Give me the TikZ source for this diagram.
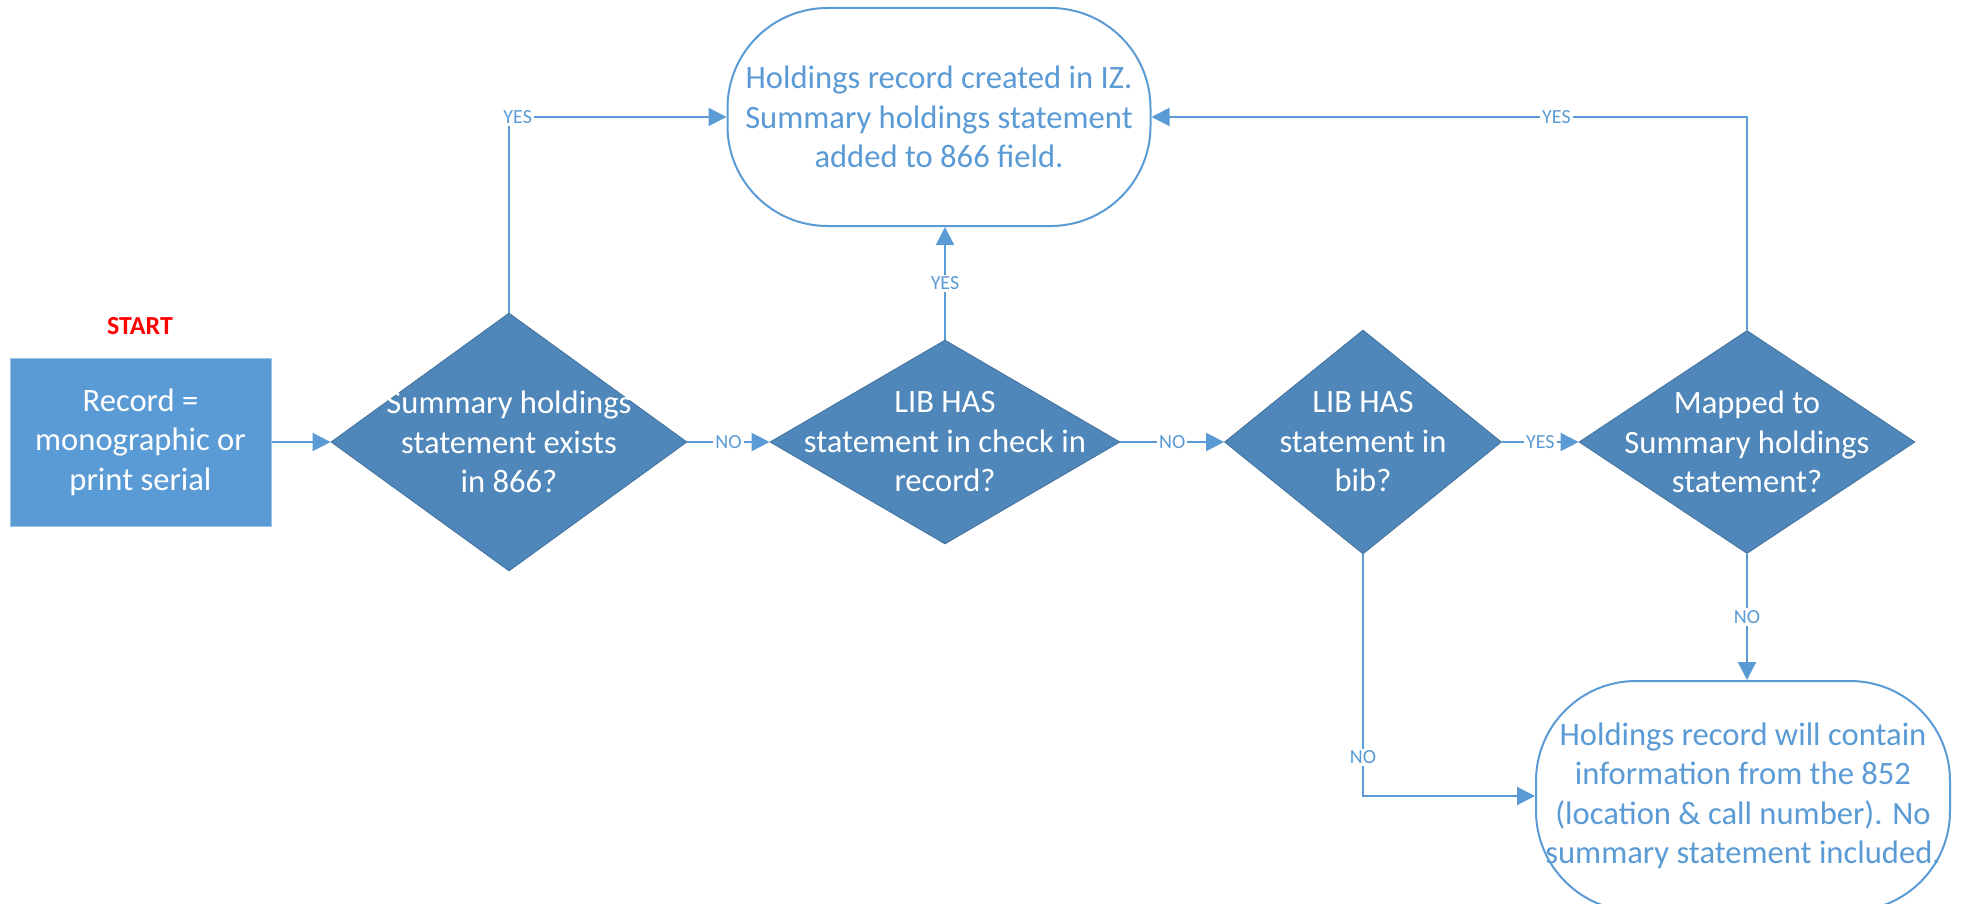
\documentclass[tikz,border=0pt]{standalone}
\usepackage{fontspec}
\setmainfont{Carlito}
\usetikzlibrary{shapes.geometric,arrows.meta}
\definecolor{boxblue}{HTML}{5B9BD5}
\definecolor{diablue}{HTML}{4F87BA}
\definecolor{edgeblue}{HTML}{41719C}

\begin{document}
\begin{tikzpicture}[x=0.5pt,y=-0.5pt,
        flow/.style={draw=boxblue,line width=1pt,-{Triangle[length=9pt,width=9pt]}},
        answer/.style={fill=white,text=boxblue,inner sep=1pt,font=\fontsize{10pt}{12pt}\selectfont},
        decision/.style={diamond,fill=diablue,draw=edgeblue,line width=0.4pt,inner sep=0pt},
        outcome/.style={rectangle,draw=boxblue,line width=1pt,rounded corners=50pt,fill=white},
        bigtext/.style={align=center,font=\fontsize{16.3pt}{19.75pt}\selectfont}]
                \useasboundingbox (0,0) rectangle (1965,904);

                \node[text=red,font=\fontsize{13pt}{15pt}\selectfont\bfseries] (start) at (140,326) {START};

                \node[rectangle,fill=boxblue,draw=boxblue!60!white,line width=0.5pt,
                    minimum width=130.5pt,minimum height=84pt,text=white,bigtext] (rec) at (140.5,442)
                    {Record =\\monographic or\\print serial};

                \node[decision,minimum width=178pt,minimum height=129pt] (d1) at (509,442) {};
                \node[bigtext,text=white] (d1t) at (d1) {Summary holdings\\statement exists\\in 866?};

                \node[decision,minimum width=175pt,minimum height=102pt] (d2) at (945,442) {};
                \node[bigtext,text=white] (d2t) at (d2) {LIB HAS\\statement in check in\\record?};

                \node[decision,minimum width=138.5pt,minimum height=112pt] (d3) at (1363,442) {};
                \node[bigtext,text=white] (d3t) at (d3) {LIB HAS\\statement in\\bib?};

                \node[decision,minimum width=168pt,minimum height=111.5pt] (d4) at (1747,442) {};
                \node[bigtext,text=white] (d4t) at (d4) {Mapped to\\Summary holdings\\statement?};

                \node[outcome,minimum width=211.5pt,minimum height=109pt,text=boxblue,bigtext] (izbox) at (939,117)
                    {Holdings record created in IZ.\\Summary holdings statement\\added to 866 field.};

                \node[outcome,minimum width=207pt,minimum height=115pt,text=boxblue,bigtext] (nobox) at (1743,796)
                    {Holdings record will contain\\information from the 852\\(location \& call number). No\\summary statement included.};

                \draw[flow] (rec) -- (d1);
                \draw[flow] (d1) -- node[answer] {NO} (d2);
                \draw[flow] (d2) -- node[answer] {NO} (d3);
                \draw[flow] (d3) -- node[answer] {YES} (d4);
                \draw[flow] (d1.north) |- node[answer,pos=0.52] {YES} (izbox.west);
                \draw[flow] (d2.north) -- node[answer] {YES} (d2.north |- izbox.south);
                \draw[flow] (d4.north) |- node[answer,pos=0.66] {YES} (izbox.east);
                \draw[flow] (d4.south) -- node[answer] {NO} (d4.south |- nobox.north);
                \draw[flow] (d3.south) |- node[answer,pos=0.42] {NO} (nobox.west);
            \end{tikzpicture}
\end{document}
